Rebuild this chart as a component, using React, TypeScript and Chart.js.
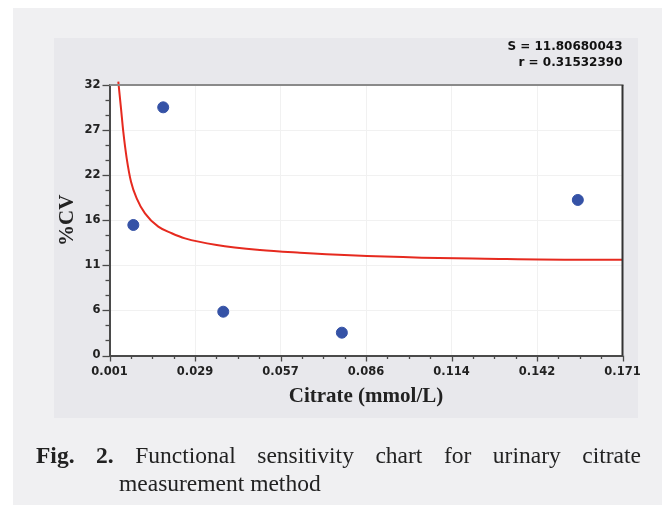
import React, { useEffect, useRef } from 'react';
import { Chart, registerables } from 'chart.js';

Chart.register(...registerables);

// ---- data ----
const xTickLabels = ['0.001', '0.029', '0.057', '0.086', '0.114', '0.142', '0.171'];
const yTickLabels = ['0', '6', '11', '16', '22', '27', '32'];
const X_MIN = 0.001;
const X_MAX = 0.171;
const Y_MIN = 0;
const Y_MAX = 32;

const sampleX = [0.0089, 0.0188, 0.0387, 0.078, 0.1562];
const sampleCV = [15.44, 29.36, 5.18, 2.7, 18.4];

const fitX = [0.00392, 0.00481, 0.00557, 0.0067, 0.00813, 0.01001, 0.01276, 0.01717, 0.02161, 0.02602, 0.03653, 0.05088, 0.0641, 0.0807, 0.1045, 0.1254, 0.1562, 0.171];
const fitCV = [32.39, 29.24, 26.48, 23.33, 20.56, 18.6, 16.82, 15.24, 14.46, 13.86, 13.07, 12.48, 12.16, 11.85, 11.57, 11.45, 11.33, 11.33];

const statLines = ['S = 11.80680043', 'r = 0.31532390'];
const xTitle = 'Citrate (mmol/L)';
const yTitle = '%CV';

const Y_MINOR_DIV = 3;
const X_MINOR_DIV = 4;

const tickPlugin = {
  id: 'ticksAndFrame',
  beforeDraw(chart: any) {
    const { ctx, chartArea: a } = chart;
    ctx.save();
    ctx.fillStyle = '#ffffff';
    ctx.fillRect(a.left, a.top, a.right - a.left, a.bottom - a.top);
    ctx.restore();
  },
  afterDraw(chart: any) {
    const { ctx, chartArea: a, scales } = chart;
    const x = scales.x;
    const y = scales.y;
    ctx.save();
    ctx.strokeStyle = '#4a4a4a';
    ctx.lineWidth = 1.3;
    const yN = (yTickLabels.length - 1) * Y_MINOR_DIV;
    for (let i = 0; i <= yN; i++) {
      const v = Y_MIN + (i * (Y_MAX - Y_MIN)) / yN;
      const py = Math.round(y.getPixelForValue(v)) + 0.5;
      const len = i % Y_MINOR_DIV === 0 ? 7 : 4;
      ctx.beginPath();
      ctx.moveTo(a.left - len, py);
      ctx.lineTo(a.left, py);
      ctx.stroke();
    }
    const xN = (xTickLabels.length - 1) * X_MINOR_DIV;
    for (let i = 0; i <= xN; i++) {
      const v = X_MIN + (i * (X_MAX - X_MIN)) / xN;
      const px = Math.round(x.getPixelForValue(v)) + 0.5;
      const len = i % X_MINOR_DIV === 0 ? 6 : 3.5;
      ctx.beginPath();
      ctx.moveTo(px, a.bottom);
      ctx.lineTo(px, a.bottom + len);
      ctx.stroke();
    }
    ctx.lineWidth = 2;
    ctx.strokeStyle = '#8a8a8a';
    ctx.beginPath();
    ctx.moveTo(a.left, a.top);
    ctx.lineTo(a.right + 1, a.top);
    ctx.stroke();
    ctx.strokeStyle = '#333333';
    ctx.beginPath();
    ctx.moveTo(a.right, a.top);
    ctx.lineTo(a.right, a.bottom);
    ctx.stroke();
    ctx.restore();
  },
};

function FunctionalSensitivityChart() {
  const ref = useRef<HTMLCanvasElement | null>(null);
  useEffect(() => {
    if (!ref.current) return;
    const tickFont = { family: 'DejaVu Sans', weight: 'bold' as const, size: 11.5 };
    const chart = new Chart(ref.current, {
      type: 'scatter',
      data: {
        datasets: [
          {
            label: 'fit',
            data: fitX.map((v, i) => ({ x: v, y: fitCV[i] })),
            showLine: true,
            borderColor: '#e62a1f',
            borderWidth: 2,
            pointRadius: 0,
            cubicInterpolationMode: 'monotone',
            clip: false as any,
          } as any,
          {
            label: 'samples',
            data: sampleX.map((v, i) => ({ x: v, y: sampleCV[i] })),
            backgroundColor: '#3552a6',
            borderColor: '#3552a6',
            pointRadius: 5.5,
            pointHoverRadius: 5.5,
          },
        ],
      },
      options: {
        responsive: false,
        maintainAspectRatio: false,
        animation: false,
        events: [],
        layout: { padding: { left: 0, right: 43.5, top: 38, bottom: 88.5 } },
        plugins: {
          legend: { display: false },
          tooltip: { enabled: false },
          title: {
            display: true,
            text: statLines,
            align: 'end',
            color: '#111',
            font: { family: 'DejaVu Sans', weight: 'bold', size: 12, lineHeight: 1.35 },
            padding: { top: 1, bottom: 13.6 },
          },
        },
        scales: {
          x: {
            type: 'linear',
            min: X_MIN,
            max: X_MAX,
            afterFit: (s: any) => {
              s.height = 62;
            },
            afterBuildTicks: (s: any) => {
              s.ticks = xTickLabels.map((_, i) => ({ value: X_MIN + (i * (X_MAX - X_MIN)) / (xTickLabels.length - 1) }));
            },
            ticks: {
              callback: (_v: any, i: number) => xTickLabels[i],
              font: tickFont,
              color: '#222',
              padding: 10,
              maxRotation: 0,
              autoSkip: false,
            },
            grid: { color: '#f1f1f1', lineWidth: 1, drawTicks: false },
            border: { color: '#4a4a4a', width: 2 },
            title: {
              display: true,
              text: xTitle,
              color: '#222',
              font: { family: 'Liberation Serif', weight: 'bold', size: 21, lineHeight: 1.2 },
              padding: { top: 0, bottom: 8 },
            },
          },
          y: {
            type: 'linear',
            min: Y_MIN,
            max: Y_MAX,
            afterFit: (s: any) => {
              s.width = 109.5;
            },
            afterBuildTicks: (s: any) => {
              s.ticks = yTickLabels.map((_, i) => ({ value: Y_MIN + (i * (Y_MAX - Y_MIN)) / (yTickLabels.length - 1) }));
            },
            ticks: {
              callback: (_v: any, i: number) => yTickLabels[i],
              font: tickFont,
              color: '#222',
              padding: 9,
              autoSkip: false,
            },
            grid: { color: '#f1f1f1', lineWidth: 1, drawTicks: false },
            border: { color: '#4a4a4a', width: 2 },
            title: {
              display: true,
              text: yTitle,
              color: '#222',
              font: { family: 'Liberation Serif', weight: 'bold', size: 21, lineHeight: 1.2 },
              padding: { top: 55, bottom: 0 },
            },
          },
        },
      },
      plugins: [tickPlugin],
    });
    return () => chart.destroy();
  }, []);
  return <canvas ref={ref} width={666} height={506} style={{ position: 'absolute', left: 0, top: 0, display: 'block' }} />;
}

export default function App() {
  const serif = '"Liberation Serif", "Times New Roman", serif';
  return (
    <div style={{ position: 'absolute', left: 0, top: 0, width: 666, height: 506, background: '#ffffff', overflow: 'hidden' }}>
      <div style={{ position: 'absolute', left: 13, top: 8, width: 649, height: 497, background: '#f0f0f2' }} />
      <div style={{ position: 'absolute', left: 54, top: 38, width: 584, height: 380, background: '#e8e8ec' }} />
      <FunctionalSensitivityChart />
      <div
        style={{
          position: 'absolute',
          left: 36,
          top: 440.5,
          width: 605,
          fontFamily: serif,
          fontSize: 23.5,
          lineHeight: '29px',
          color: '#222',
          whiteSpace: 'nowrap',
        }}
      >
        <div style={{ display: 'flex', justifyContent: 'space-between' }}>
          <b>Fig.</b>
          <b>2.</b>
          <span>Functional</span>
          <span>sensitivity</span>
          <span>chart</span>
          <span>for</span>
          <span>urinary</span>
          <span>citrate</span>
        </div>
      </div>
      <div
        style={{
          position: 'absolute',
          left: 119,
          top: 468.5,
          fontFamily: serif,
          fontSize: 23.5,
          lineHeight: '29px',
          color: '#222',
          whiteSpace: 'nowrap',
        }}
      >
        measurement method
      </div>
    </div>
  );
}
